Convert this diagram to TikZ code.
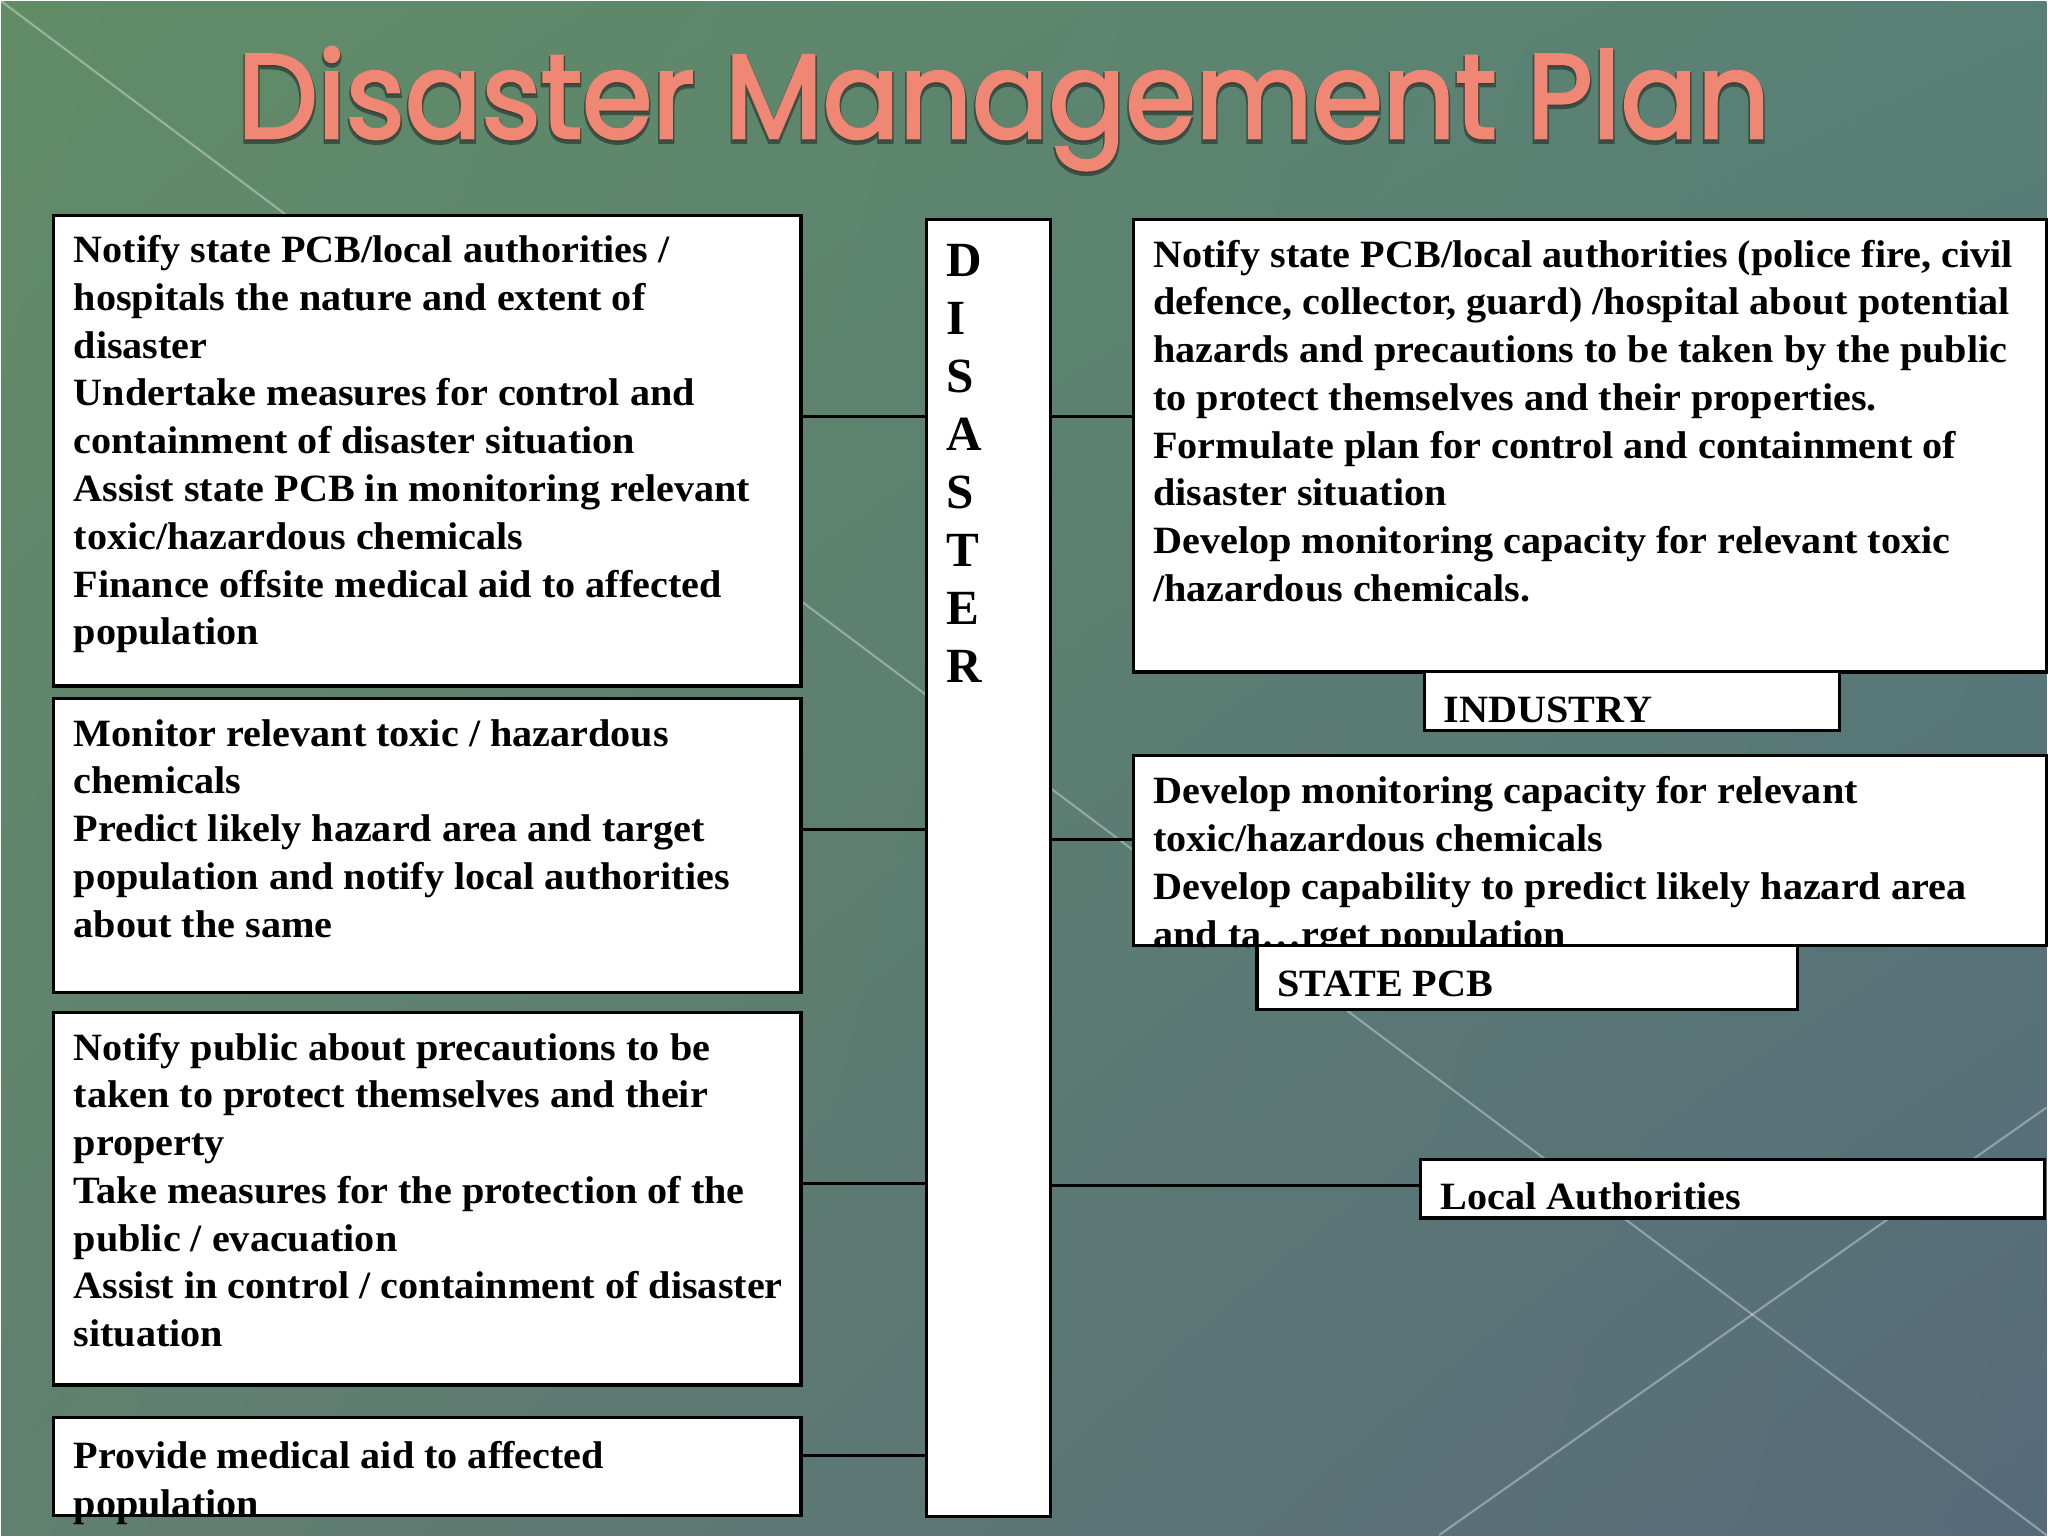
\documentclass[tikz,border=0pt]{standalone}
\usepackage{fontspec}
\setmainfont{Liberation Serif}
\newfontfamily\panelfont[FakeStretch=1.04]{Liberation Serif}
\newfontfamily\titlefont[FakeStretch=0.95, FakeBold=2.4]{Poppins}
\newfontfamily\titleglowfont[FakeStretch=0.95, FakeBold=5]{Poppins}
\usetikzlibrary{positioning, shadings}

\definecolor{slideTL}{RGB}{98,140,102}
\definecolor{slideTR}{RGB}{88,128,118}
\definecolor{slideBL}{RGB}{96,128,112}
\definecolor{slideBR}{RGB}{86,106,122}
\definecolor{salmon}{RGB}{240,134,116}
\definecolor{shadowgrey}{RGB}{50,62,52}

\tikzset{
  panel/.style={draw=black, line width=0.9pt, fill=white, anchor=north west, inner sep=0pt},
  panel text/.style={anchor=north west, align=left, inner sep=0pt, text=black,
    font=\panelfont\bfseries\fontsize{11}{13.6}\selectfont, execute at begin node=\strut},
  tag text/.style={anchor=base west, inner sep=0pt, text=black,
    font=\panelfont\bfseries\fontsize{11}{13.6}\selectfont},
  spine letter/.style={anchor=west, inner sep=0pt, font=\bfseries\fontsize{14}{16}\selectfont},
  link/.style={draw=black, line width=0.8pt},
  glint/.style={draw=white, opacity=0.35, line width=0.6pt},
  title/.style={anchor=base, inner sep=0pt, text=salmon, font=\titlefont\fontsize{34}{38}\selectfont},
}

\begin{document}
\begin{tikzpicture}[x=0.01cm, y=-0.01cm]
% backdrop
\shade[upper left=slideTL, upper right=slideTR, lower left=slideBL, lower right=slideBR]
  (0,0) rectangle (2048,1536);
\draw[glint] (0,0) -- (2048,1536);
\draw[glint] (2048,1108) -- (1440,1536);

% heading
\node[title, text=shadowgrey, opacity=0.75, font=\titleglowfont\fontsize{34}{38}\selectfont]
  (heading-shadow) at (1004,140) {Disaster Management Plan};
\node[title] (heading) at (1004,137) {Disaster Management Plan};

% left column
\node[panel, minimum width=7.48cm, minimum height=4.71cm] (l1) at (51,213) {};
\node[panel text] (l1t) at ([xshift=0.21cm, yshift=-0.21cm]l1.north west)
  {Notify state PCB/local authorities /\\
   hospitals the nature and extent of\\
   disaster\\
   Undertake measures for control and\\
   containment of disaster situation\\
   Assist state PCB in monitoring relevant\\
   toxic/hazardous chemicals\\
   Finance offsite medical aid to affected\\
   population};

\node[panel, minimum width=7.48cm, minimum height=2.94cm] (l2) at (51,697) {};
\node[panel text] (l2t) at ([xshift=0.21cm, yshift=-0.215cm]l2.north west)
  {Monitor relevant toxic / hazardous\\
   chemicals\\
   Predict likely hazard area and target\\
   population and notify local authorities\\
   about the same};

\node[panel, minimum width=7.48cm, minimum height=3.73cm] (l3) at (51,1011) {};
\node[panel text] (l3t) at ([xshift=0.21cm, yshift=-0.215cm]l3.north west)
  {Notify public about precautions to be\\
   taken to protect themselves and their\\
   property\\
   Take measures for the protection of the\\
   public / evacuation\\
   Assist in control / containment of disaster\\
   situation};

\node[panel, minimum width=7.48cm, minimum height=0.98cm] (l4) at (51,1417) {};
\node[panel text] (l4t) at ([xshift=0.21cm, yshift=-0.245cm]l4.north west)
  {Provide medical aid to affected\\
   population};

% disaster spine
\node[panel, minimum width=1.24cm, minimum height=12.98cm] (spine) at (925,217) {};
\foreach \ch [count=\i] in {D,I,S,A,S,T,E,R}
  \node[spine letter] (spine-\i) at (946, 260+58*\i-58) {\ch};

% right column
\node[panel, minimum width=9.14cm, minimum height=4.53cm] (r1) at (1132,217) {};
\node[panel text] (r1t) at ([xshift=0.21cm, yshift=-0.215cm]r1.north west)
  {Notify state PCB/local authorities (police fire, civil\\
   defence, collector, guard) /hospital about potential\\
   hazards and precautions to be taken by the public\\
   to protect themselves and their properties.\\
   Formulate plan for control and containment of\\
   disaster situation\\
   Develop monitoring capacity for relevant toxic\\
   /hazardous chemicals.};
\node[panel, minimum width=4.15cm, minimum height=0.59cm] (industry) at (1424,670) {};
\node[tag text] (industry-t) at ([xshift=0.2cm, yshift=0.1cm]industry.south west) {INDUSTRY};

\node[panel, minimum width=9.14cm, minimum height=1.90cm] (r2) at (1132,754) {};
\begin{scope}
  \clip (r2.north west) rectangle (r2.south east);
  \node[panel text] (r2t) at ([xshift=0.21cm, yshift=-0.22cm]r2.north west)
    {Develop monitoring capacity for relevant\\
     toxic/hazardous chemicals\\
     Develop capability to predict likely hazard area\\
     and ta\ldots rget population};
\end{scope}
\node[panel, minimum width=5.41cm, minimum height=0.64cm] (pcb) at (1256,944) {};
\node[tag text] (pcb-t) at ([xshift=0.21cm, yshift=0.14cm]pcb.south west) {STATE PCB};

\node[panel, minimum width=6.24cm, minimum height=0.59cm] (local) at (1420,1158) {};
\node[tag text] (local-t) at ([xshift=0.21cm, yshift=0.1cm]local.south west) {Local Authorities};

% links to the spine
\draw[link] ([yshift=0.345cm]l1.east) -- ([yshift=0.345cm]l1.east -| spine.west);
\draw[link] ([yshift=0.165cm]l2.east) -- ([yshift=0.165cm]l2.east -| spine.west);
\draw[link] ([yshift=0.155cm]l3.east) -- ([yshift=0.155cm]l3.east -| spine.west);
\draw[link] ([yshift=0.11cm]l4.east) -- ([yshift=0.11cm]l4.east -| spine.west);
\draw[link] ([yshift=0.295cm]r1.west) -- ([yshift=0.295cm]r1.west -| spine.east);
\draw[link] ([yshift=0.11cm]r2.west) -- ([yshift=0.11cm]r2.west -| spine.east);
\draw[link] ([yshift=0.03cm]local.west) -- ([yshift=0.03cm]local.west -| spine.east);
\end{tikzpicture}
\end{document}
